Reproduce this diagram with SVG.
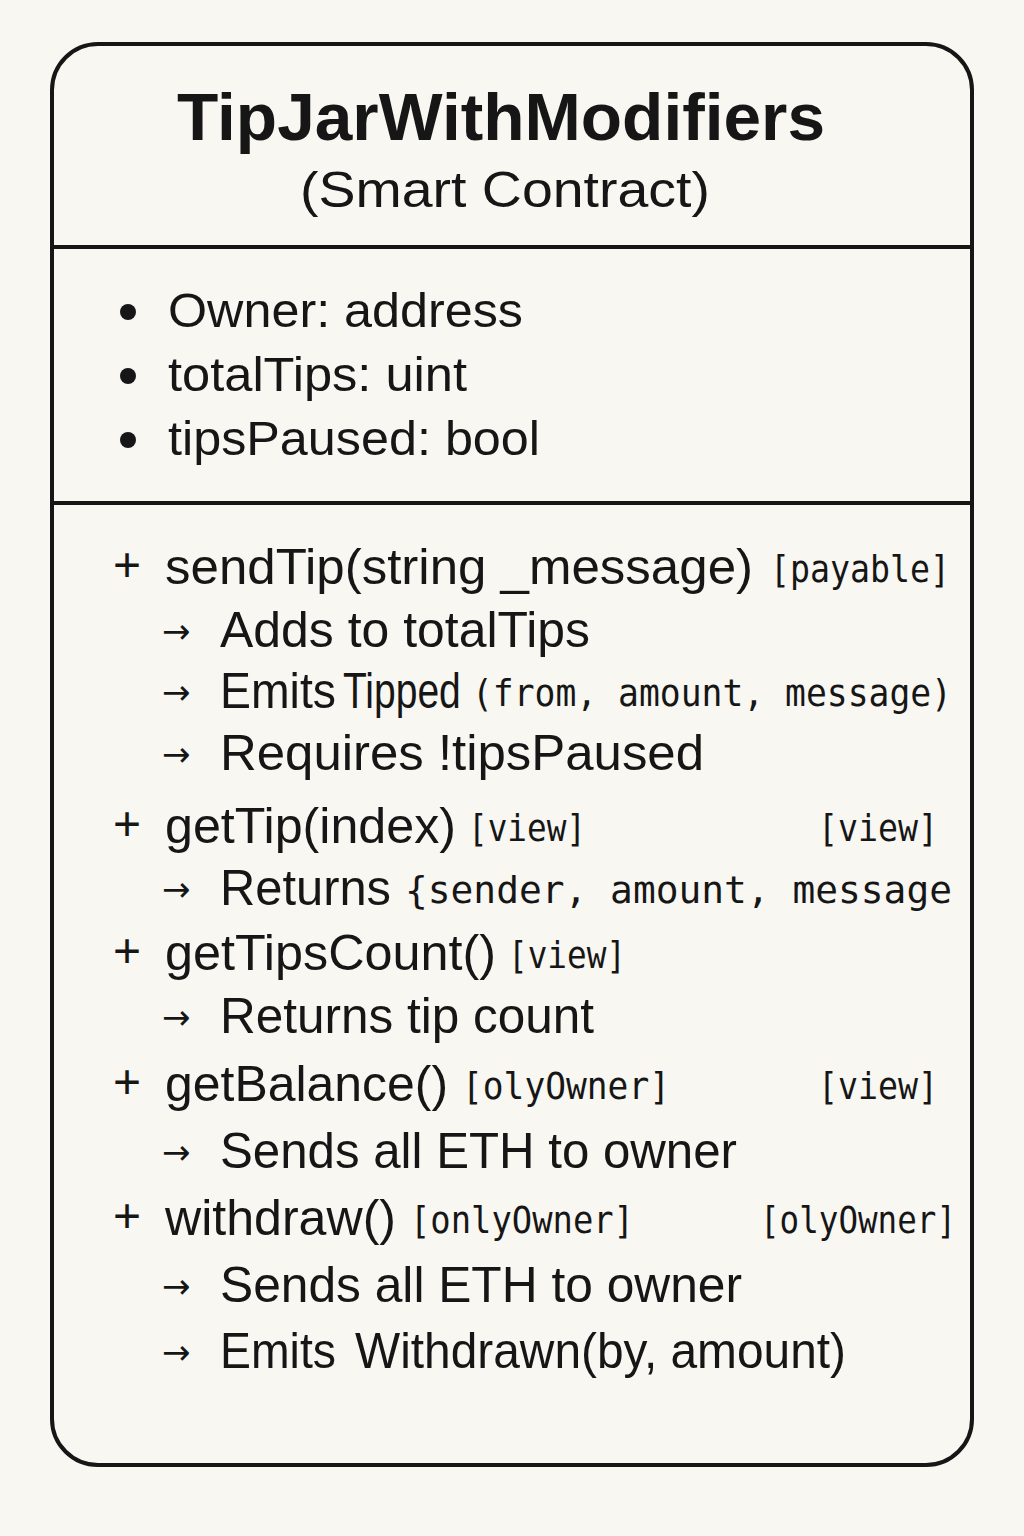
<svg xmlns="http://www.w3.org/2000/svg" width="1024" height="1536" viewBox="0 0 1024 1536">
  <style>
    .frame { fill: none; stroke: #161616; stroke-width: 4; }
    .rule { stroke: #161616; stroke-width: 4; }
    .title { font-family: "Liberation Sans", Arial, sans-serif; font-weight: bold; font-size: 66px; fill: #161616; }
    .sub { font-family: "Liberation Sans", Arial, sans-serif; font-size: 50px; fill: #161616; }
    .attr { font-family: "Liberation Sans", Arial, sans-serif; font-size: 48px; fill: #161616; }
    .m { font-family: "Liberation Sans", Arial, sans-serif; font-size: 50px; fill: #161616; }
    .mono { font-family: "DejaVu Sans Mono", "Liberation Mono", monospace; font-size: 38px; fill: #161616; }
    .arr { font-family: "DejaVu Sans", sans-serif; font-size: 34px; fill: #161616; }
    .plus { font-family: "Liberation Sans", Arial, sans-serif; font-size: 48px; fill: #161616; }
  </style>
  <rect width="1024" height="1536" fill="#f9f7f2"/>

  <g id="contract">
    <rect class="frame" x="52" y="44" width="920" height="1421" rx="46" ry="46" fill="#f9f7f2"/>
    <line class="rule" x1="52" y1="247" x2="972" y2="247"/>
    <line class="rule" x1="52" y1="503" x2="972" y2="503"/>

    <!-- header -->
    <g id="header">
      <text class="title" x="501" y="140" text-anchor="middle" textLength="648" lengthAdjust="spacingAndGlyphs">TipJarWithModifiers</text>
      <text class="sub" x="505" y="207" text-anchor="middle" textLength="410" lengthAdjust="spacingAndGlyphs">(Smart Contract)</text>
    </g>

    <!-- state variables -->
    <g id="attributes">
      <circle cx="128" cy="312" r="8" fill="#161616"/>
      <text class="attr" x="168" y="327" textLength="355" lengthAdjust="spacingAndGlyphs">Owner: address</text>
      <circle cx="128" cy="376" r="8" fill="#161616"/>
      <text class="attr" x="168" y="391" textLength="299" lengthAdjust="spacingAndGlyphs">totalTips: uint</text>
      <circle cx="128" cy="440" r="8" fill="#161616"/>
      <text class="attr" x="168" y="455" textLength="372" lengthAdjust="spacingAndGlyphs">tipsPaused: bool</text>
    </g>

    <!-- functions -->
    <g id="methods">
      <!-- sendTip -->
      <text class="plus" x="113" y="581">+</text>
      <text class="m" x="165" y="584" textLength="588" lengthAdjust="spacingAndGlyphs">sendTip(string _message)</text>
      <text class="mono" x="770" y="582" textLength="180" lengthAdjust="spacingAndGlyphs">[payable]</text>

      <text class="arr" x="162" y="643">→</text>
      <text class="m" x="220" y="647" textLength="370" lengthAdjust="spacingAndGlyphs">Adds to totalTips</text>

      <text class="arr" x="162" y="704">→</text>
      <text class="m" x="220" y="708" textLength="116" lengthAdjust="spacingAndGlyphs">Emits</text>
      <!-- condensed event name -->
      <text class="m" transform="translate(343 708) scale(0.78 1)">Tipped</text>
      <text class="mono" x="472" y="706" textLength="480" lengthAdjust="spacingAndGlyphs">(from, amount, message)</text>

      <text class="arr" x="162" y="766">→</text>
      <text class="m" x="220" y="770" textLength="484" lengthAdjust="spacingAndGlyphs">Requires !tipsPaused</text>

      <!-- getTip -->
      <text class="plus" x="113" y="840">+</text>
      <text class="m" x="165" y="843" textLength="291" lengthAdjust="spacingAndGlyphs">getTip(index)</text>
      <text class="mono" x="468" y="841" textLength="118" lengthAdjust="spacingAndGlyphs">[view]</text>
      <text class="mono" x="818" y="841" textLength="120" lengthAdjust="spacingAndGlyphs">[view]</text>

      <text class="arr" x="162" y="901">→</text>
      <text class="m" x="220" y="905" textLength="171" lengthAdjust="spacingAndGlyphs">Returns</text>
      <text class="mono" x="405" y="903" textLength="547" lengthAdjust="spacingAndGlyphs">{sender, amount, message</text>

      <!-- getTipsCount -->
      <text class="plus" x="113" y="967">+</text>
      <text class="m" x="165" y="970" textLength="331" lengthAdjust="spacingAndGlyphs">getTipsCount()</text>
      <text class="mono" x="508" y="968" textLength="118" lengthAdjust="spacingAndGlyphs">[view]</text>

      <text class="arr" x="162" y="1029">→</text>
      <text class="m" x="220" y="1033" textLength="374" lengthAdjust="spacingAndGlyphs">Returns tip count</text>

      <!-- getBalance -->
      <text class="plus" x="113" y="1098">+</text>
      <text class="m" x="165" y="1101" textLength="283" lengthAdjust="spacingAndGlyphs">getBalance()</text>
      <text class="mono" x="462" y="1099" textLength="208" lengthAdjust="spacingAndGlyphs">[olyOwner]</text>
      <text class="mono" x="818" y="1099" textLength="120" lengthAdjust="spacingAndGlyphs">[view]</text>

      <text class="arr" x="162" y="1164">→</text>
      <text class="m" x="220" y="1168" textLength="517" lengthAdjust="spacingAndGlyphs">Sends all ETH to owner</text>

      <!-- withdraw -->
      <text class="plus" x="113" y="1232">+</text>
      <text class="m" x="165" y="1235" textLength="231" lengthAdjust="spacingAndGlyphs">withdraw()</text>
      <text class="mono" x="410" y="1233" textLength="224" lengthAdjust="spacingAndGlyphs">[onlyOwner]</text>
      <text class="mono" x="760" y="1233" textLength="196" lengthAdjust="spacingAndGlyphs">[olyOwner]</text>

      <text class="arr" x="162" y="1298">→</text>
      <text class="m" x="220" y="1302" textLength="522" lengthAdjust="spacingAndGlyphs">Sends all ETH to owner</text>

      <text class="arr" x="162" y="1364">→</text>
      <text class="m" x="220" y="1368" textLength="116" lengthAdjust="spacingAndGlyphs">Emits</text>
      <text class="m" x="355" y="1368" textLength="491" lengthAdjust="spacingAndGlyphs">Withdrawn(by, amount)</text>
    </g>
  </g>
</svg>
